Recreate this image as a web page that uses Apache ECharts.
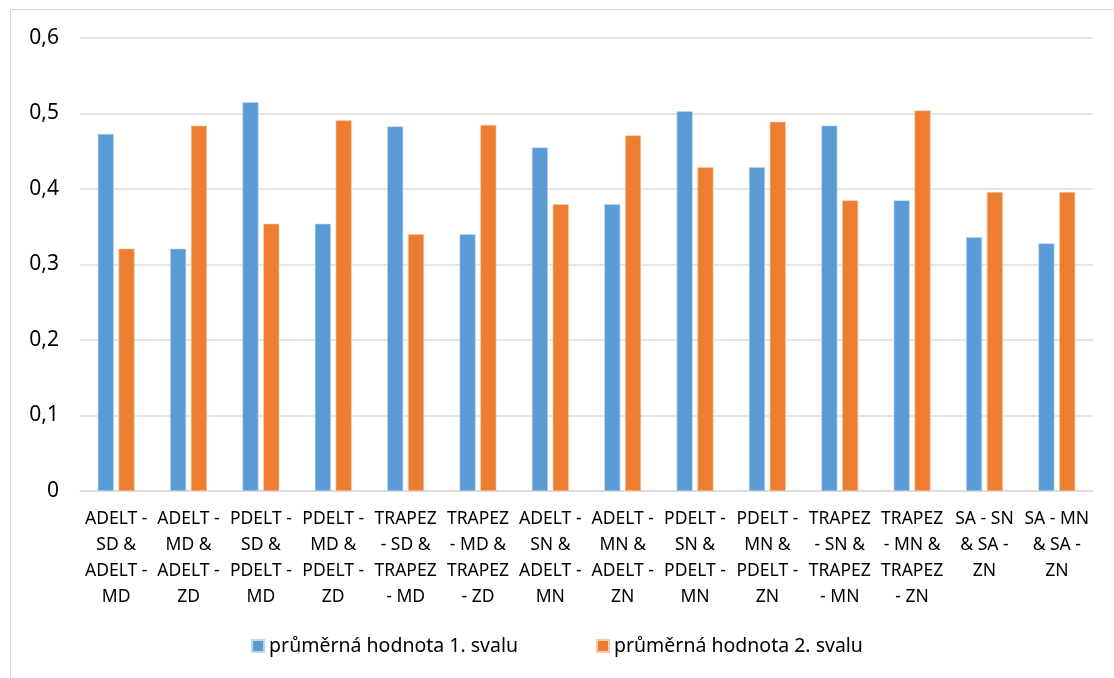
<!DOCTYPE html>
<html>
<head>
<meta charset="utf-8">
<script src="https://cdn.jsdelivr.net/npm/echarts@6/dist/echarts.min.js"></script>
<style>
html,body{margin:0;padding:0;background:#fff;}
#c{width:1114px;height:678px;}
</style>
</head>
<body>
<div id="c"></div>
<script>
const categories = [
  "ADELT -\nSD &\nADELT -\nMD",
  "ADELT -\nMD &\nADELT -\nZD",
  "PDELT -\nSD &\nPDELT -\nMD",
  "PDELT -\nMD &\nPDELT -\nZD",
  "TRAPEZ\n- SD &\nTRAPEZ\n- MD",
  "TRAPEZ\n- MD &\nTRAPEZ\n- ZD",
  "ADELT -\nSN &\nADELT -\nMN",
  "ADELT -\nMN &\nADELT -\nZN",
  "PDELT -\nSN &\nPDELT -\nMN",
  "PDELT -\nMN &\nPDELT -\nZN",
  "TRAPEZ\n- SN &\nTRAPEZ\n- MN",
  "TRAPEZ\n- MN &\nTRAPEZ\n- ZN",
  "SA - SN\n& SA -\nZN",
  "SA - MN\n& SA -\nZN"
];
const seriesNames = ["průměrná hodnota 1. svalu", "průměrná hodnota 2. svalu"];
const values1 = [0.473, 0.321, 0.515, 0.354, 0.483, 0.340, 0.455, 0.380, 0.503, 0.429, 0.484, 0.385, 0.336, 0.328];
const values2 = [0.321, 0.484, 0.354, 0.491, 0.340, 0.485, 0.380, 0.471, 0.429, 0.489, 0.385, 0.504, 0.396, 0.396];

const chart = echarts.init(document.getElementById('c'));
const font = "'Noto Sans', 'Liberation Sans', sans-serif";
chart.setOption({
  animation: false,
  backgroundColor: '#fff',
  graphic: [
    {type: 'line', shape: {x1: 10.5, y1: 9.5, x2: 1114, y2: 9.5}, style: {stroke: '#d9d9d9', lineWidth: 1}},
    {type: 'line', shape: {x1: 10.5, y1: 9.5, x2: 10.5, y2: 678}, style: {stroke: '#d9d9d9', lineWidth: 1}}
  ],
  grid: {left: 80, right: 21, top: 38, bottom: 187, containLabel: false},
  legend: {
    data: seriesNames,
    bottom: 17,
    left: 'center',
    itemWidth: 12,
    itemHeight: 12,
    itemGap: 78,
    icon: 'rect',
    textStyle: {fontFamily: font, fontSize: 19.5, color: '#000'}
  },
  xAxis: {
    type: 'category',
    data: categories,
    axisLine: {show: true, lineStyle: {color: '#d9d9d9', width: 1.5}},
    axisTick: {show: false},
    axisLabel: {
      interval: 0,
      margin: 15,
      fontFamily: font,
      fontSize: 17.5,
      lineHeight: 26,
      color: '#000'
    }
  },
  yAxis: {
    type: 'value',
    min: 0,
    max: 0.6,
    interval: 0.1,
    axisLine: {show: false},
    axisTick: {show: false},
    splitLine: {lineStyle: {color: '#dcdcdc', width: 1.5}},
    axisLabel: {
      margin: 21,
      fontFamily: font,
      fontSize: 21,
      color: '#000',
      formatter: v => v === 0 ? '0' : v.toFixed(1).replace('.', ',')
    }
  },
  series: [
    {
      name: seriesNames[0],
      type: 'bar',
      data: values1,
      barWidth: 16,
      barGap: '30%',
      itemStyle: {color: '#5B9BD5', borderColor: '#bcd6ee', borderWidth: 0.6}
    },
    {
      name: seriesNames[1],
      type: 'bar',
      data: values2,
      barWidth: 16,
      barGap: '30%',
      itemStyle: {color: '#ED7D31', borderColor: '#f8c9aa', borderWidth: 0.6}
    }
  ]
});
</script>
</body>
</html>
